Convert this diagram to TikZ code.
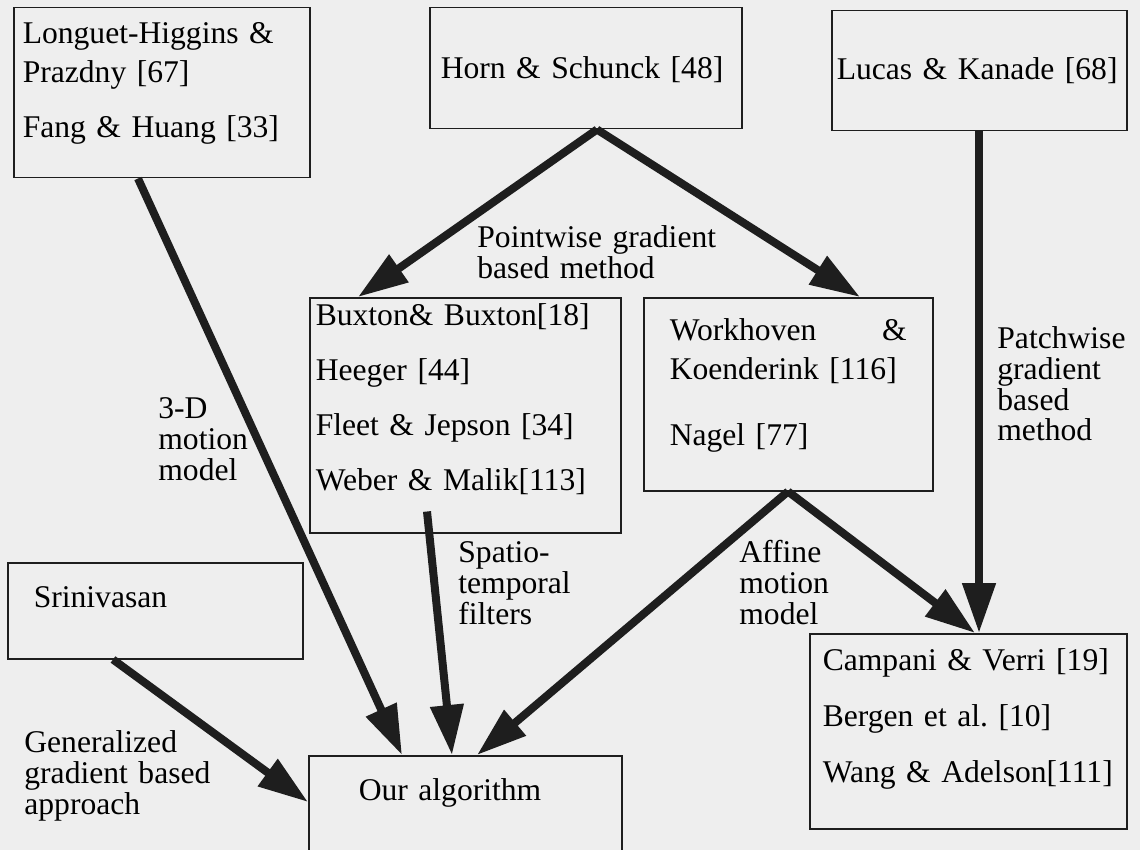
\documentclass[tikz,border=0pt]{standalone}
\usepackage{fontspec}
\setmainfont{Liberation Serif}
\usepackage{tikz}
\usetikzlibrary{arrows.meta, calc}
\definecolor{paper}{HTML}{EEEEEE}
\definecolor{ink}{HTML}{1E1E1E}

\begin{document}
\begin{tikzpicture}[
  x=0.5pt, y=-0.5pt,
  ref/.style={draw=ink, line width=0.75pt, anchor=north west, inner ysep=0pt, align=left, font=\fontsize{15.8pt}{19.5pt}\selectfont},
  lbl/.style={anchor=base west, inner sep=0pt, align=left, font=\fontsize{15.8pt}{15.5pt}\selectfont},
  arr/.style={-{Triangle[length=25pt, width=16pt]}, line width=4pt, ink},
]
\path[use as bounding box, fill=paper] (0,0) rectangle (1140,850);

% Top row
\node[ref, inner xsep=4.5pt, text width=139pt, text height=18pt, text depth=67pt] (lh) at (13,7)
  {Longuet-Higgins \&\\Prazdny [67]\\[8pt]Fang \& Huang [33]};
\node[ref, inner xsep=5.5pt, text width=145pt, text height=35.5pt, text depth=25pt] (horn) at (429,7)
  {Horn \& Schunck [48]};
\node[ref, inner xsep=2.5pt, text width=142.5pt, text height=34.5pt, text depth=25.5pt] (lucas) at (831,10)
  {Lucas \& Kanade [68]};

% Middle row
\node[ref, inner xsep=3pt, text width=149.5pt, text height=14pt, text depth=103.5pt] (bux) at (309,297)
  {Buxton\& Buxton[18]\\[8pt]Heeger [44]\\[8pt]Fleet \& Jepson [34]\\[8pt]Weber \& Malik[113]};
\node[ref, inner xsep=13pt, text width=118.5pt, text height=21.5pt, text depth=75pt] (wk) at (643,297)
  {Workhoven\hfill\&\\Koenderink [116]\\[13.5pt]Nagel [77]};

% Bottom row
\node[ref, inner xsep=13pt, text width=121.5pt, text height=22.5pt, text depth=25.5pt] (sri) at (7,562)
  {Srinivasan};
\node[ref, inner xsep=25pt, text width=106.5pt, text height=22.5pt, text depth=31pt] (our) at (308,755)
  {Our algorithm};
\node[ref, inner xsep=6.5pt, text width=145.5pt, text height=18.5pt, text depth=79pt] (camp) at (809,633)
  {Campani \& Verri [19]\\[8.5pt]Bergen et al.\ [10]\\[8.5pt]\mbox{Wang \& Adelson[111]}};

% Edge labels
\node[lbl, text width=40pt] (l3d) at (158,418) {3-D\\motion\\model};
\node[lbl, text width=125pt] (lpw) at (477,248) {Pointwise gradient\\based method};
\node[lbl, text width=50pt] (lst) at (458,562) {Spatio-\\temporal\\filters};
\node[lbl, text width=50pt] (laf) at (739,562) {Affine\\motion\\model};
\node[lbl, text width=70pt] (lpa) at (997,348) {Patchwise\\gradient\\based\\method};
\node[lbl, text width=100pt] (lgen) at (24,752) {Generalized\\gradient based\\approach};

% Arrows
\draw[arr] ($(lh.south west)+(125,0)$) -- ($(our.north west)+(94,0)$);
\draw[arr] ($(horn.south west)+(168,0)$) -- ($(bux.north west)+(49,0)$);
\draw[arr] ($(horn.south west)+(168,0)$) -- ($(wk.north west)+(217,0)$);
\draw[arr] ($(lucas.south west)+(148,0)$) -- ($(camp.north west)+(170,0)$);
\draw[arr] ($(bux.south west)+(118,-22)$) -- ($(our.north west)+(144,0)$);
\draw[arr] ($(wk.south west)+(145,0)$) -- ($(our.north west)+(169,0)$);
\draw[arr] ($(wk.south west)+(145,0)$) -- ($(camp.north west)+(166,0)$);
\draw[arr] ($(sri.south west)+(106,0)$) -- ($(our.north west)+(0,47)$);

\end{tikzpicture}
\end{document}
